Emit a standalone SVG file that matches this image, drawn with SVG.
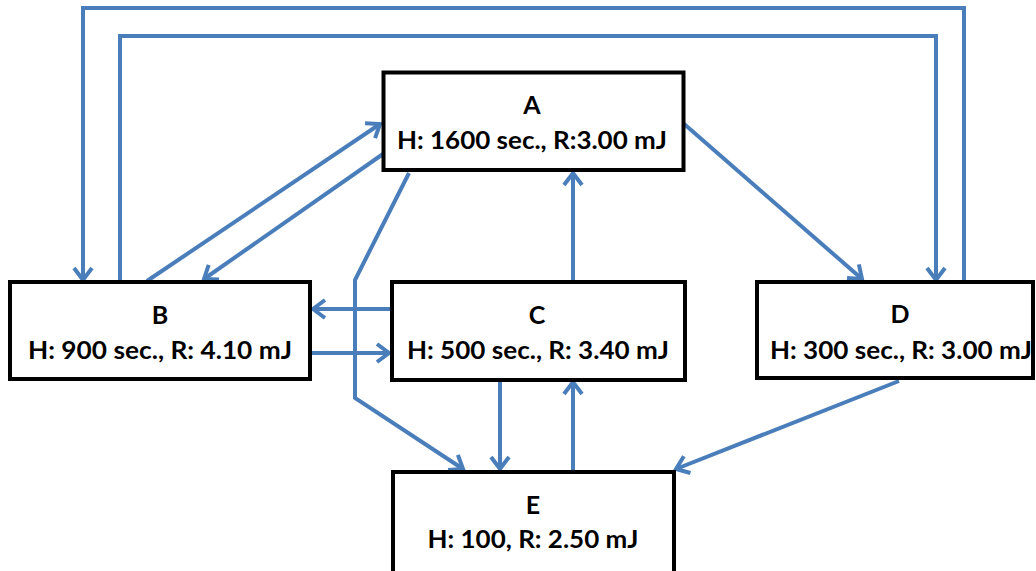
<svg xmlns="http://www.w3.org/2000/svg" width="1036" height="571" viewBox="0 0 1036 571">
  <style>
    .box { fill: #ffffff; stroke: #000000; stroke-width: 4; }
    .title { font-family: "Lato", "Liberation Sans", sans-serif; font-weight: bold; font-size: 25px; fill: #000000; text-anchor: middle; }
    .info { font-family: "Lato", "Liberation Sans", sans-serif; font-weight: bold; font-size: 25px; fill: #000000; text-anchor: middle; }
    .edge { fill: none; stroke: #4A7EBB; stroke-width: 4; stroke-linejoin: miter; marker-end: url(#arrow); }
  </style>
  <defs>
    <marker id="arrow" markerUnits="userSpaceOnUse" viewBox="-16 -12 20 24" refX="0" refY="0" markerWidth="20" markerHeight="24" orient="auto" overflow="visible">
      <path d="M -12 -9 L 0 0 L -12 9" fill="none" stroke="#4A7EBB" stroke-width="4" stroke-linejoin="miter"/>
    </marker>
  </defs>

  <rect width="1036" height="571" fill="#ffffff"/>

  <!-- connectors -->
  <g id="connectors">
    <!-- D to B over the top -->
    <path class="edge" d="M 964 282 L 964 8 L 83 8 L 83 280"/>
    <!-- B to D over the top -->
    <path class="edge" d="M 120 282 L 120 36 L 936 36 L 936 280"/>
    <!-- B to A -->
    <path class="edge" d="M 147 281 L 380 124"/>
    <!-- A to B -->
    <path class="edge" d="M 383 154 L 204 279"/>
    <!-- A to D -->
    <path class="edge" d="M 683 123 L 862 279"/>
    <!-- C to A -->
    <path class="edge" d="M 573 282 L 573 173"/>
    <!-- C to B -->
    <path class="edge" d="M 391 309 L 313 309"/>
    <!-- B to C -->
    <path class="edge" d="M 312 353 L 389 353"/>
    <!-- A to E, routed left of C -->
    <path class="edge" d="M 409 173 L 355 280 L 355 398 L 463 469"/>
    <!-- C to E -->
    <path class="edge" d="M 500 381 L 500 469"/>
    <!-- E to C -->
    <path class="edge" d="M 573 472 L 573 382"/>
    <!-- D to E -->
    <path class="edge" d="M 899 381 L 676 469"/>
  </g>

  <g id="node-A">
    <rect class="box" x="383.5" y="72.5" width="300" height="97.5"/>
    <text class="title" x="532" y="114">A</text>
    <text class="info" x="532" y="149" textLength="270" lengthAdjust="spacingAndGlyphs">H: 1600 sec., R:3.00 mJ</text>
  </g>

  <g id="node-B">
    <rect class="box" x="10" y="282" width="300" height="97"/>
    <text class="title" x="160" y="324">B</text>
    <text class="info" x="160" y="359" textLength="264" lengthAdjust="spacingAndGlyphs">H: 900 sec., R: 4.10 mJ</text>
  </g>

  <g id="node-C">
    <rect class="box" x="392" y="282" width="293" height="98"/>
    <text class="title" x="537" y="324">C</text>
    <text class="info" x="538" y="359" textLength="262" lengthAdjust="spacingAndGlyphs">H: 500 sec., R: 3.40 mJ</text>
  </g>

  <g id="node-D">
    <rect class="box" x="757" y="282" width="276" height="96"/>
    <text class="title" x="900" y="323">D</text>
    <text class="info" x="901" y="359" textLength="262" lengthAdjust="spacingAndGlyphs">H: 300 sec., R: 3.00 mJ</text>
  </g>

  <g id="node-E">
    <rect class="box" x="393" y="472" width="281" height="110"/>
    <text class="title" x="533" y="514">E</text>
    <text class="info" x="533" y="548" textLength="211" lengthAdjust="spacingAndGlyphs">H: 100, R: 2.50 mJ</text>
  </g>
</svg>
